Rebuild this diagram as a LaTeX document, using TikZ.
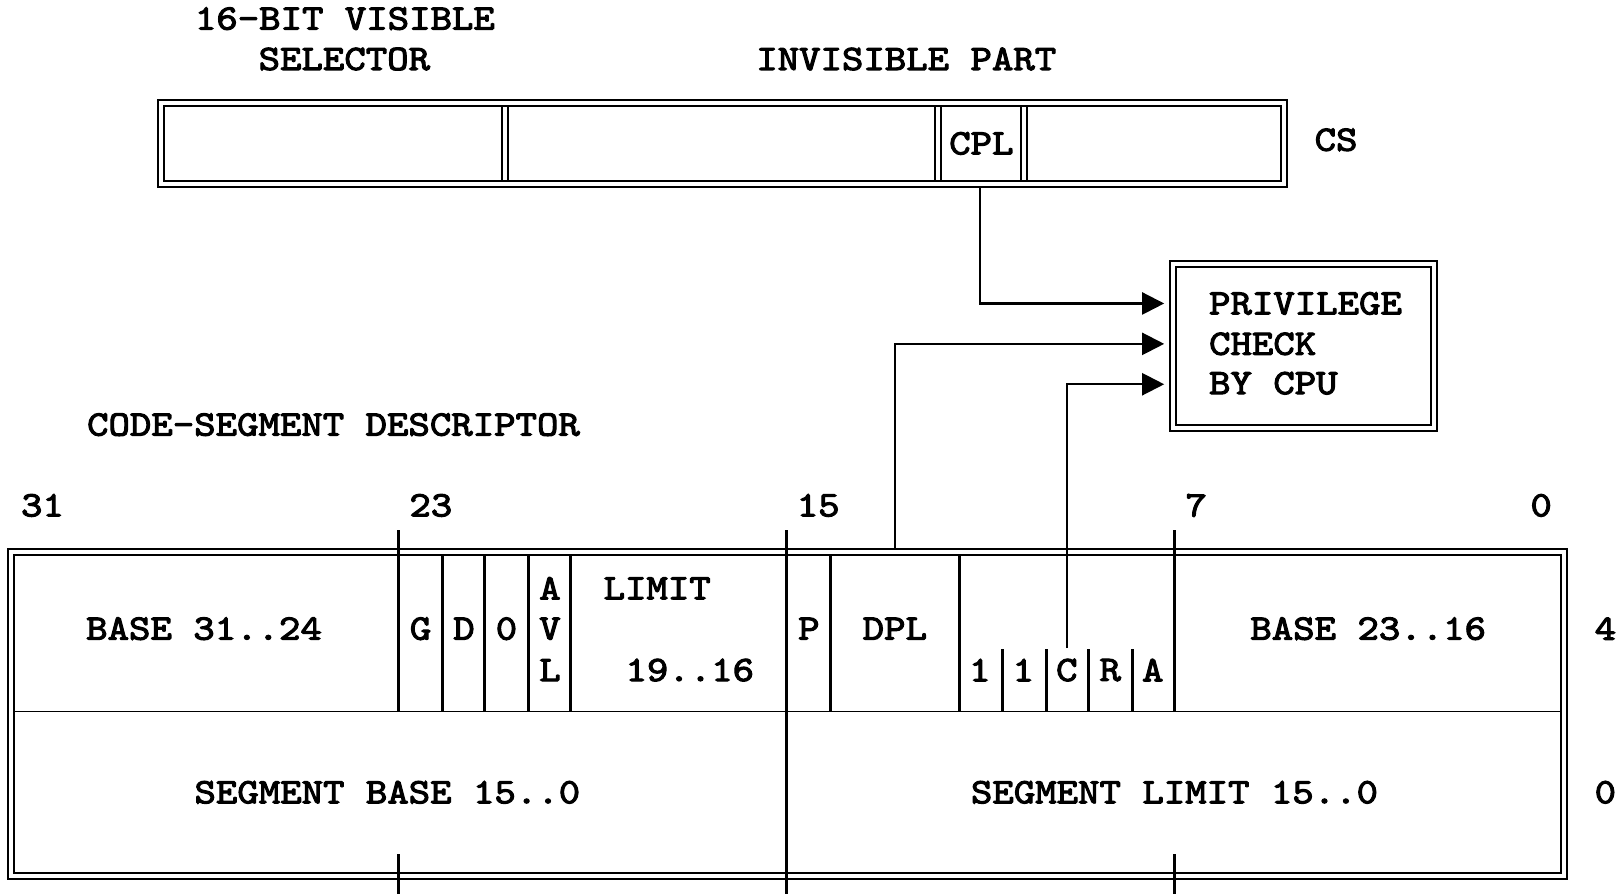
\documentclass[tikz,border=0pt]{standalone}
\usepackage{fontspec}
\newfontfamily\cour{lmmono10-regular.otf}[FakeStretch=1.14, FakeBold=3]
\usetikzlibrary{arrows.meta,calc}
\begin{document}
\begin{tikzpicture}[x=0.5179pt,y=-0.5179pt,
  every node/.style={font=\cour\fontsize{17.9pt}{20pt}\selectfont, inner sep=0pt},
  dbl/.style={draw=black, line width=1pt, double=white, double distance=2pt},
  thinline/.style={draw=black, line width=0.9pt},
  bar/.style={draw=black, line width=1.5pt},
  arr/.style={draw=black, line width=1.1pt, -{Triangle[length=11pt,width=11pt]}}]
\useasboundingbox (0,0) rectangle (1568,863);

% ---------- CS register ----------
\node (vislbl) at (333,18) {16-BIT VISIBLE};
\node (sellbl) at (332.5,57) {SELECTOR};
\node (invlbl) at (875,57) {INVISIBLE PART};

\draw[dbl] (488,102) -- (488,175);
\draw[dbl] (906,102) -- (906,175);
\draw[dbl] (989,102) -- (989,175);
\draw[dbl] (155,99) rectangle (1240,177.5);
\node[minimum width=43pt, minimum height=37.8pt] (cpl) at (947.5,138.5) {CPL};
\node (cs) at (1290,135) {CS};

% ---------- privilege check ----------
\node[dbl, minimum width=130.5pt, minimum height=81.8pt] (priv) at (1259,334) {};
\node[anchor=west] (pv1) at (1167,293) {PRIVILEGE};
\node[anchor=west] (pv2) at (1167,332) {CHECK};
\node[anchor=west] (pv3) at (1167,370) {BY CPU};

% ---------- descriptor ----------
\node (cslbl) at (322,410) {CODE-SEGMENT DESCRIPTOR};
\node (b31) at (41,488) {31};
\node (b23) at (416,488) {23};
\node (b15) at (790,488) {15};
\node (b7) at (1155,488) {7};
\node (b0) at (1488,488) {0};

\draw[dbl] (10.5,532.5) rectangle (1510,845.5);
\draw[thinline] (13.4,687) -- (1507.1,687);
\foreach \x in {427,468,510,551,802,926} \draw[bar] (\x,535.4) -- (\x,687);
\foreach \x in {968,1010,1051,1093} \draw[bar] (\x,627) -- (\x,687);
\draw[bar] (385,512) -- (385,687);
\draw[bar] (1134,512) -- (1134,687);
\draw[bar] (759,512) -- (759,863);
\draw[bar] (385,825) -- (385,863);
\draw[bar] (1134,825) -- (1134,863);

\node (base3124) at (197,607) {BASE 31..24};
\node (g) at (406,607) {G};
\node (d) at (448,607) {D};
\node (z) at (489,607) {0};
\node (a1) at (531,568) {A};
\node (v1) at (531,607) {V};
\node (l1) at (531,647) {L};
\node (lim) at (634.5,568) {LIMIT};
\node (lim2) at (666,647) {19..16};
\node (p) at (781,607) {P};
\node[minimum width=64.2pt, minimum height=78.7pt] (dpl) at (864,607) {DPL};
\node (one1) at (946,647) {1};
\node (one2) at (988,647) {1};
\node (cbit) at (1030,647) {C};
\node (rbit) at (1072,647) {R};
\node (abit) at (1113,647) {A};
\node (base2316) at (1321,607) {BASE 23..16};
\node (r4) at (1550,607) {4};
\node (segbase) at (374,765) {SEGMENT BASE 15..0};
\node (seglim) at (1134,765) {SEGMENT LIMIT 15..0};
\node (r0) at (1550,765) {0};

% ---------- connectors ----------
\draw[arr] ($(cpl.south)+(-1.5,5)$) |- ($(priv.west)+(-8,-41)$);
\draw[arr] (dpl.north) |- ($(priv.west)+(-8,-2)$);
\draw[arr] ($(cbit.north)+(0,-10)$) |- ($(priv.west)+(-8,37)$);
\end{tikzpicture}
\end{document}
